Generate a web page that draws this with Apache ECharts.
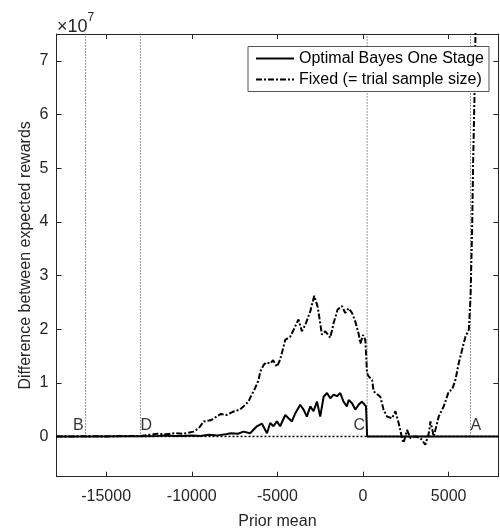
<!DOCTYPE html>
<html>
<head>
<meta charset="utf-8">
<script src="https://cdn.jsdelivr.net/npm/echarts@6/dist/echarts.min.js"></script>
<style>html,body{margin:0;padding:0;background:#fff}#c{width:500px;height:532px}</style>
</head>
<body>
<div id="c"></div>
<script>
// Values (y in units of 1e7)
var fixedX = [-17900,-17000,-16000,-15000,-14000,-13000,-12500,-12000,-11500,-11000,-10500,-9900,-9600,-9300,-8900,-8600,-8300,-7950,-7600,-7200,-6980,-6690,-6590,-6300,-6100,-6000,-5810,-5650,-5420,-5250,-5030,-4840,-4540,-4250,-3960,-3770,-3570,-3370,-3080,-2850,-2650,-2400,-2200,-1910,-1720,-1490,-1230,-1040,-840,-640,-450,-260,-160,0,135,234,330,530,620,1010,1200,1400,1700,1890,2080,2280,2370,2570,2770,3060,3350,3640,3840,3940,4130,4420,4710,5010,5200,5400,5590,5790,5980,6180,6280,6370,6430,6510,6570,6620];
var fixedY = [0,0,0.005,0,0.01,0.01,0.03,0.05,0.04,0.06,0.05,0.09,0.15,0.28,0.3,0.36,0.42,0.40,0.46,0.50,0.56,0.65,0.72,0.90,1.05,1.21,1.33,1.38,1.36,1.42,1.30,1.43,1.80,1.86,2.05,2.18,1.96,2.08,2.33,2.62,2.42,1.90,1.96,1.84,2.11,2.36,2.43,2.30,2.39,2.30,2.14,1.92,1.73,1.89,1.80,1.18,1.12,1.05,0.84,0.74,0.50,0.37,0.34,0.47,0.25,-0.03,-0.12,0.12,-0.03,0,-0.03,-0.155,0.06,0.28,0,0.37,0.56,0.84,0.87,1.06,1.37,1.62,1.86,1.99,2.61,3.85,5.10,6.34,7.58,8.5];
var optX = [-17900,-16000,-14000,-13000,-12000,-11500,-11000,-10500,-10000,-9500,-9000,-8500,-8000,-7720,-7300,-6980,-6590,-6200,-5910,-5610,-5420,-5230,-5030,-4840,-4540,-4350,-4150,-3960,-3670,-3470,-3280,-3080,-2890,-2690,-2500,-2300,-2100,-1910,-1720,-1520,-1330,-1140,-940,-840,-640,-450,-260,-60,35,175,234,240,2000,7900];
var optY = [0,0,0.005,0.005,0.01,0.02,0.01,0.01,0.02,0.01,0.03,0.02,0.04,0.06,0.05,0.09,0.06,0.19,0.24,0.06,0.25,0.19,0.28,0.19,0.40,0.34,0.28,0.43,0.59,0.50,0.37,0.56,0.47,0.65,0.37,0.74,0.81,0.71,0.78,0.75,0.81,0.65,0.56,0.68,0.62,0.50,0.59,0.65,0.62,0.56,0.56,0,0,0];
var refLabels = ['B','D','C','A'];
var refX = [-16200,-13000,240,6280];
var refSide = ['left','right','left','right'];
var xTicks = [-15000,-10000,-5000,0,5000];
var yTicks = [0,1,2,3,4,5,6,7];
var xRange = [-17900,7900];
var yRange = [-0.75,7.5];
var seriesNames = ['Optimal Bayes One Stage','Fixed (= trial sample size)'];

function zip(a,b){return a.map(function(v,i){return [v,b[i]];});}
var FONT = '"Liberation Sans", Arial, sans-serif';
var AX = '#262626';

var series = [];
refX.forEach(function(x,i){
  series.push({type:'line',name:'ref'+i,data:[[x,0],[x,yRange[1]]],symbol:'none',silent:true,
    lineStyle:{color:'#333',width:1,type:[1,2]},z:1});
});
series.push({type:'line',name:'zero',data:[[xRange[0],0],[xRange[1],0]],symbol:'none',silent:true,
  lineStyle:{color:'#000',width:1.5,type:[2,2]},z:1});
series.push({type:'line',name:seriesNames[1],data:zip(fixedX,fixedY),symbol:'none',color:'#000',
  itemStyle:{color:'#000'},lineStyle:{color:'#000',width:2,type:[6,2,2,2]},z:3});
series.push({type:'line',name:seriesNames[0],data:zip(optX,optY),symbol:'none',color:'#000',
  itemStyle:{color:'#000'},lineStyle:{color:'#000',width:2,type:'solid'},z:4});
series.push({type:'scatter',name:'labels',symbolSize:0,silent:true,z:5,
  data:refX.map(function(x,i){return {value:[x,0],label:{formatter:refLabels[i],position:refSide[i],distance:refSide[i]==='left'?2:0}};}),
  label:{show:true,fontSize:16,fontFamily:FONT,color:'#000',offset:[0,-10.5]}});

var chart = echarts.init(document.getElementById('c'),null,{renderer:'canvas'});
chart.setOption({
  animation:false,
  backgroundColor:'#fff',
  textStyle:{fontFamily:FONT},
  grid:{left:56.5,right:1.7,top:34,bottom:55.3,containLabel:false,outerBoundsMode:'none'},
  legend:{data:seriesNames,orient:'vertical',left:248,top:46.5,itemWidth:38,itemHeight:14,itemGap:5,
    padding:[4,5,4,7],backgroundColor:'#fff',borderColor:'#555',borderWidth:1,
    itemStyle:{opacity:0},
    textStyle:{fontSize:16,fontFamily:FONT,color:'#000'},z:10},
  xAxis:[{type:'value',min:xRange[0],max:xRange[1],position:'bottom',
    axisLine:{show:true,onZero:false,lineStyle:{color:AX,width:1}},
    axisTick:{show:true,inside:true,length:5,customValues:xTicks,lineStyle:{color:AX}},
    axisLabel:{customValues:xTicks,fontSize:16,color:AX,margin:12,fontFamily:FONT,formatter:function(v){return String(v);}},
    splitLine:{show:false},
    name:'Prior mean',nameLocation:'middle',nameGap:37,nameMoveOverlap:false,nameTextStyle:{fontSize:16,color:AX,fontFamily:FONT}},
   {type:'value',min:xRange[0],max:xRange[1],position:'top',
    axisLine:{show:true,onZero:false,lineStyle:{color:AX,width:1}},
    axisTick:{show:true,inside:true,length:5,customValues:xTicks,lineStyle:{color:AX}},
    axisLabel:{show:false},splitLine:{show:false}}],
  yAxis:[{type:'value',min:yRange[0],max:yRange[1],position:'left',
    axisLine:{show:true,onZero:false,lineStyle:{color:AX,width:1}},
    axisTick:{show:true,inside:true,length:5,customValues:yTicks,lineStyle:{color:AX}},
    axisLabel:{customValues:yTicks,fontSize:16,color:AX,margin:8,fontFamily:FONT,formatter:function(v){return String(v);}},
    splitLine:{show:false},
    name:'Difference between expected rewards',nameLocation:'middle',nameGap:23,nameMoveOverlap:false,
    nameTextStyle:{fontSize:16,color:AX,fontFamily:FONT}},
   {type:'value',min:yRange[0],max:yRange[1],position:'right',
    axisLine:{show:true,onZero:false,lineStyle:{color:AX,width:1}},
    axisTick:{show:true,inside:true,length:5,customValues:yTicks,lineStyle:{color:AX}},
    axisLabel:{show:false},splitLine:{show:false}}],
  graphic:[{type:'text',left:57,top:12,z:100,style:{
    text:'{a|×10}{b|7}',
    rich:{a:{fontSize:18,fontFamily:FONT,fill:AX,padding:[8,0,0,0]},b:{fontSize:12,fontFamily:FONT,fill:AX,padding:[0,0,10,0]}}}}],
  series:series
});
</script>
</body>
</html>
